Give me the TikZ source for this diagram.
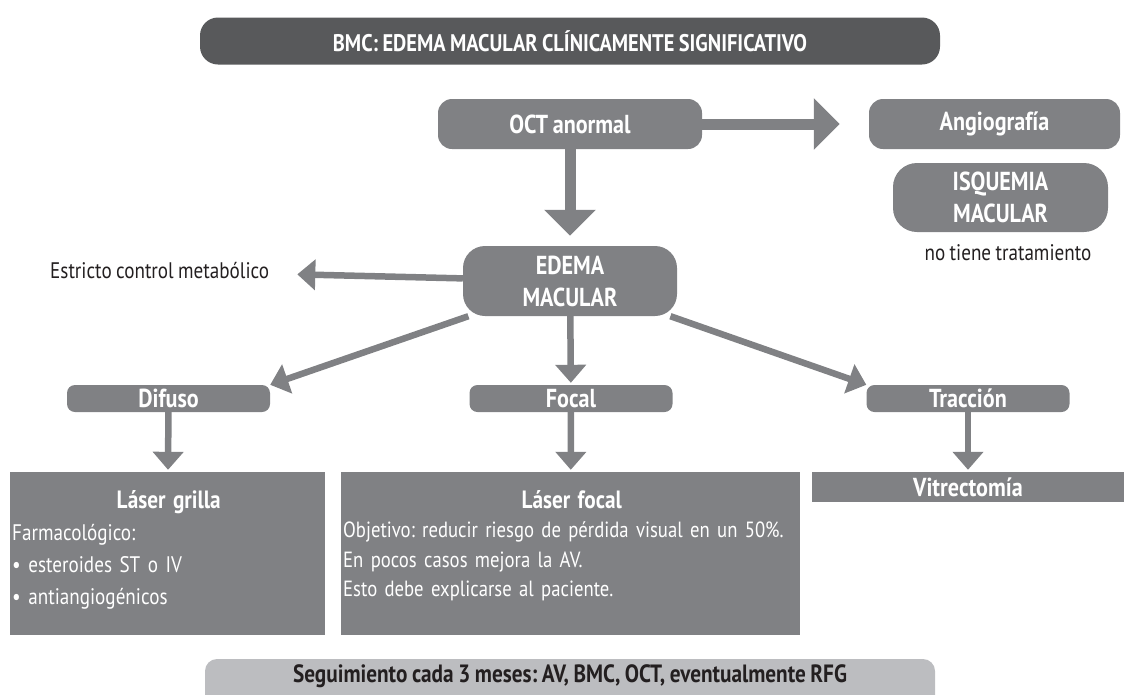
\documentclass[tikz,border=0pt]{standalone}
\usepackage{fontspec}
\setmainfont{PT Sans}[FakeStretch=0.85,WordSpace=0.85]
\usetikzlibrary{arrows.meta}
\definecolor{grisosc}{HTML}{58595B}
\definecolor{grismed}{HTML}{808184}
\definecolor{grisclaro}{HTML}{BCBDC0}
\definecolor{textoosc}{HTML}{231F20}
\frenchspacing
\begin{document}
\begin{tikzpicture}[x=1pt,y=-1pt,line join=round,
	caja/.style={fill=grismed,text=white,font=\fontsize{26}{32}\selectfont\bfseries,rounded corners=14pt,inner sep=0pt,align=center},
	cajita/.style={caja,rounded corners=8pt,minimum width=203pt,minimum height=27pt},
	bloque/.style={fill=grismed,inner sep=0pt},
	texto/.style={text=textoosc,font=\fontsize{22.5}{26}\selectfont,inner sep=0pt},
	contenido/.style={text=white,font=\fontsize{22.5}{32}\selectfont,inner sep=0pt,align=left,anchor=north west},
	flecha/.style={draw=grismed,line width=11pt,-{Triangle[width=50pt,length=26pt]}},
	flechita/.style={draw=grismed,line width=6.5pt,-{Triangle[width=30pt,length=18pt]}}]
	\useasboundingbox (0,0) rectangle (1124,694);
	\clip (0,0) rectangle (1124,694);
	%Titulo
	\node[caja,fill=grisosc,font=\fontsize{24}{28}\selectfont\bfseries,minimum width=740pt,minimum height=47pt,rounded corners=18pt] (bmc) at (570,41) {BMC: EDEMA MACULAR CLÍNICAMENTE SIGNIFICATIVO};
	%OCT y angiografia
	\node[caja,minimum width=264pt,minimum height=50pt] (oct) at (570,124) {OCT anormal};
	\node[caja,minimum width=251pt,minimum height=50pt] (angio) at (994.5,124) {Angiografía};
	\node[caja,minimum width=215pt,minimum height=69pt,rounded corners=24pt] (isquemia) at (1000.5,197.5) {ISQUEMIA\\MACULAR};
	\node[texto] (notiene) at (1008,253) {no tiene tratamiento};
	%Edema
	\node[caja,minimum width=214pt,minimum height=70pt,rounded corners=22pt] (edema) at (570,281) {EDEMA\\MACULAR};
	\node[texto,anchor=west] (estricto) at (50,271) {Estricto control metabólico};
	%Tipos
	\node[cajita] (difuso) at (168.5,398.5) {Difuso};
	\node[cajita] (focal) at (571,398.5) {Focal};
	\node[cajita] (traccion) at (968,398.5) {Tracción};
	%Tratamientos
	\node[bloque,minimum width=315pt,minimum height=163pt] (grilla) at (167.5,553.5) {};
	\node[bloque,minimum width=459pt,minimum height=163pt] (lfocal) at (570.5,553.5) {};
	\node[bloque,minimum width=312pt,minimum height=30pt,text=white,font=\fontsize{26}{30}\selectfont\bfseries] (vitrec) at (968,487) {Vitrectomía};
	\node[contenido,text width=313pt] (grillatxt) at (12,490) {\makebox[\linewidth]{\fontsize{25}{30}\selectfont\bfseries Láser grilla}\\Farmacológico:\\• esteroides ST o IV\\• antiangiogénicos};
	\node[contenido,text width=457pt,font=\fontsize{22}{29.5}\selectfont] (lfocaltxt) at (343,490) {\makebox[\linewidth]{\fontsize{25}{30}\selectfont\bfseries Láser focal}\\Objetivo: reducir riesgo de pérdida visual en un 50\%.\\En pocos casos mejora la AV.\\Esto debe explicarse al paciente.};
	%Seguimiento
	\node[fill=grisclaro,rounded corners=12pt,minimum width=730pt,minimum height=60pt,inner sep=0pt] (seguim) at (570,689) {};
	\node[texto,font=\fontsize{25}{28}\selectfont\bfseries] (seguimtxt) at (570,676) {Seguimiento cada 3 meses: AV, BMC, OCT, eventualmente RFG};
	%Flechas
	\draw[flecha,shorten >=29pt] (oct) -- (angio);
	\draw[flecha,shorten >=10pt] (oct) -- (edema);
	\draw[flechita,shorten >=28pt] (edema) -- (estricto);
	\draw[flechita] (edema) -- (difuso.north east);
	\draw[flechita] (edema) -- (traccion.north west);
	\draw[flechita,shorten >=2pt] (edema) -- (focal);
	\draw[flechita,shorten >=2pt] (difuso) -- (grilla);
	\draw[flechita,shorten >=2pt] (focal) -- (lfocal);
	\draw[flechita,shorten >=2pt] (traccion) -- (vitrec);
\end{tikzpicture}
\end{document}
